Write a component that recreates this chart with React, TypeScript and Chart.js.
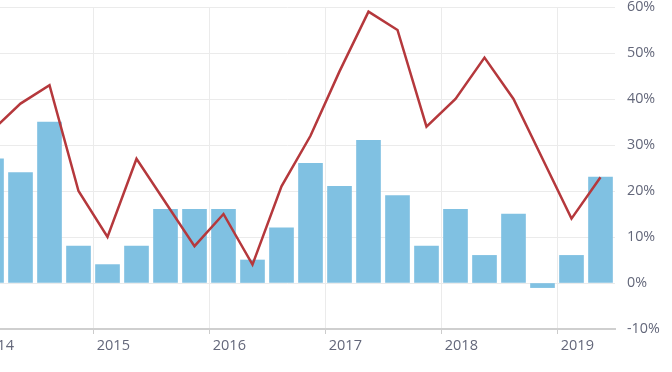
import React, { useEffect, useRef } from "react";
import { Chart, registerables } from "chart.js";

Chart.register(...registerables);

// Quarter midpoints (fractional years), Q1 2014 .. Q2 2019
const quarters: number[] = [
  2014.125, 2014.375, 2014.625, 2014.875,
  2015.125, 2015.375, 2015.625, 2015.875,
  2016.125, 2016.375, 2016.625, 2016.875,
  2017.125, 2017.375, 2017.625, 2017.875,
  2018.125, 2018.375, 2018.625, 2018.875,
  2019.125, 2019.375,
];
const barValues: number[] = [
  27, 24, 35, 8,
  4, 8, 16, 16,
  16, 5, 12, 26,
  21, 31, 19, 8,
  16, 6, 15, -1,
  6, 23,
];
const lineValues: number[] = [
  33, 39, 43, 20,
  10, 27, 17.5, 8,
  15, 4, 21, 32,
  46, 59, 55, 34,
  40, 49, 40, 27,
  14, 23,
];
const yearTicks: number[] = [2014, 2015, 2016, 2017, 2018, 2019];
const yTicks: number[] = [-10, 0, 10, 20, 30, 40, 50, 60];

const FONT = "'Open Sans', 'Noto Sans', sans-serif";
const LABEL_COLOR = "#63677a";

export default function App() {
  const ref = useRef<HTMLCanvasElement | null>(null);
  useEffect(() => {
    if (!ref.current) return;
    const chart = new Chart(ref.current, {
      type: "bar",
      data: {
        datasets: [
          {
            type: "line",
            data: quarters.map((q, i) => ({ x: q, y: lineValues[i] })),
            borderColor: "#b5383c",
            borderWidth: 2.5,
            pointRadius: 0,
            tension: 0,
            order: 0,
          } as any,
          {
            type: "bar",
            data: quarters.map((q, i) => ({ x: q, y: barValues[i] })),
            backgroundColor: "#80c1e2",
            barThickness: 24,
            order: 1,
          } as any,
        ],
      },
      options: {
        responsive: false,
        animation: false,
        layout: { padding: 0 },
        plugins: { legend: { display: false }, tooltip: { enabled: false } },
        scales: {
          x: {
            type: "linear",
            min: 2013.8534,
            max: 2019.5,
            offset: false,
            afterBuildTicks: (scale: any) => {
              scale.ticks = yearTicks.map((v) => ({ value: v }));
            },
            afterFit: (scale: any) => {
              scale.height = 43;
              scale.paddingLeft = 0;
              scale.paddingRight = 0;
            },
            grid: {
              offset: false,
              color: "#ebebeb",
              lineWidth: 1,
              drawTicks: true,
              tickLength: 5,
              tickColor: "#cccccc",
            },
            border: { display: true, color: "#cfcfcf", width: 2 },
            ticks: {
              autoSkip: false,
              maxRotation: 0,
              minRotation: 0,
              align: "start",
              padding: 3,
              color: LABEL_COLOR,
              font: { family: FONT, size: 14.5 },
              callback: (v: any) => " " + String(v),
            },
          },
          y: {
            position: "right",
            min: -10,
            max: 60,
            afterBuildTicks: (scale: any) => {
              scale.ticks = yTicks.map((v) => ({ value: v }));
            },
            afterFit: (scale: any) => {
              scale.width = 57;
              scale.paddingTop = 7;
              scale.paddingBottom = 0;
            },
            grid: { color: "#ebebeb", lineWidth: 1, drawTicks: false },
            border: { display: false },
            ticks: {
              padding: 12,
              color: LABEL_COLOR,
              font: { family: FONT, size: 14.3 },
              callback: (v: any) => v + "%",
            },
          },
        },
      },
    });
    return () => chart.destroy();
  }, []);
  return (
    <div style={{ position: "absolute", left: -40, top: 0, width: 712, height: 372, overflow: "hidden" }}>
      <canvas ref={ref} width={712} height={372} style={{ display: "block" }} />
    </div>
  );
}
